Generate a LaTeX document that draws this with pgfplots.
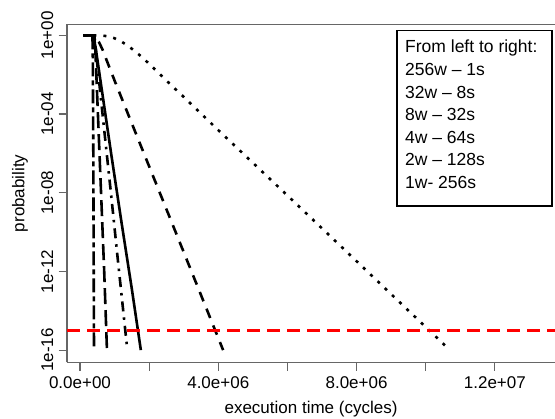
\documentclass[border=0pt]{standalone}
\usepackage{fontspec}
\setmainfont{Liberation Sans}
\usepackage{pgfplots}
\pgfplotsset{compat=1.18}

\definecolor{axgray}{gray}{0.4}

\begin{document}
\begin{tikzpicture}

% execution time in units of 1e6 cycles
\begin{axis}[
    at={(0,0)},
    anchor=south west,
    scale only axis,
    width=488bp,
    height=338bp,
    xmin=-0.376, xmax=13.74,
    ymode=log,
    ymin=2.4e-17, ymax=3.63,
    axis x line*=box,
    axis y line*=left,
    axis line style={-, draw=axgray, line width=1.1bp},
    tick style={draw=axgray, line width=1.1bp},
    major tick length=8.5bp,
    tick align=outside,
    xtick pos=left,
    xtick={0,2,4,6,8,10,12},
    xticklabels={0.0e+00,,4.0e+06,,8.0e+06,,1.2e+07},
    ytick={1,1e-4,1e-8,1e-12,1e-16},
    yticklabels={1e+00,1e-04,1e-08,1e-12,1e-16},
    minor ytick={},
    log basis y=10,
    xticklabel shift=6bp,
    yticklabel shift=5bp,
    xticklabel style={font=\fontsize{17bp}{20bp}\selectfont, anchor=north, inner sep=0pt},
    yticklabel style={font=\fontsize{17bp}{20bp}\selectfont, rotate=90, anchor=south, inner sep=0pt},
    xlabel={execution time (cycles)},
    ylabel={probability},
    xlabel style={font=\fontsize{17bp}{20bp}\selectfont, at={(axis description cs:0.5,0)}, anchor=base, yshift=-51.5bp, inner sep=0pt},
    ylabel style={font=\fontsize{17bp}{20bp}\selectfont, at={(axis description cs:-0.0963,0.5)}, anchor=center, inner sep=0pt},
    every axis plot/.append style={line width=2.6bp, black, line cap=butt},
    clip=true,
]

% 256w - 1s
\addplot[dash pattern=on 5bp off 4bp on 14bp off 4bp] coordinates {
    (0.10,1) (0.36,1) (0.37,1e-1) (0.385,1e-6) (0.395,1e-11) (0.405,1e-16)
};

% 32w - 8s
\addplot[dash pattern=on 16bp off 6bp] coordinates {
    (0.10,1) (0.42,1) (0.45,1e-1) (0.50,6.31e-4) (0.60,2.51e-8) (0.70,1e-12) (0.78,1e-16)
};

% 8w - 32s
\addplot[dash pattern=on 2.5bp off 6bp on 10bp off 6bp] coordinates {
    (0.10,1) (0.40,1) (0.46,0.158) (0.55,5.01e-3) (0.70,1.58e-5) (0.90,7.94e-9) (1.10,3.16e-12) (1.37,1e-16)
};

% 4w - 64s
\addplot[solid] coordinates {
    (0.10,1) (0.38,1) (0.45,0.251) (0.55,1.58e-2) (0.70,2.51e-4) (0.90,1e-6) (1.20,3.16e-10) (1.50,1.26e-13) (1.76,1e-16)
};

% 2w - 128s
\addplot[dash pattern=on 10bp off 8bp] coordinates {
    (0.10,1) (0.35,1) (0.45,0.794) (0.55,0.447) (0.65,0.191) (0.80,3.98e-2) (1.00,5.01e-3)
    (1.50,3.31e-5) (2.00,2.19e-7) (2.50,1.45e-9) (3.00,9.55e-12) (3.50,6.31e-14) (4.14,1e-16)
};

% 1w - 256s
\addplot[dash pattern=on 3bp off 7bp] coordinates {
    (0.10,1) (0.60,1) (0.80,0.891) (1.00,0.708) (1.20,0.479) (1.40,0.282) (1.60,0.151)
    (1.80,7.59e-2) (2.00,3.55e-2) (2.30,1.10e-2) (2.60,3.39e-3) (3.00,7.41e-4) (4.00,1.51e-5)
    (6.00,7.24e-9) (8.00,3.31e-12) (10.70,1e-16)
};

% threshold
\addplot[red, line width=2.6bp, dash pattern=on 12.5bp off 7.5bp] coordinates {
    (-0.376,1e-15) (13.74,1e-15)
};

\draw[black, line width=1.3bp] (rel axis cs:0.676,0.982) rectangle (rel axis cs:0.994,0.462);
\node[anchor=north west, inner sep=0pt, align=left,
      font=\fontsize{17.5bp}{22.6bp}\selectfont]
    at (rel axis cs:0.6926,0.9535) {From left to right:\\256w -- 1s\\32w -- 8s\\8w -- 32s\\4w -- 64s\\2w -- 128s\\1w- 256s};

\end{axis}

\pgfresetboundingbox
\path[use as bounding box] (-67bp,-56.7bp) rectangle (488bp,362.3bp);

\end{tikzpicture}
\end{document}
